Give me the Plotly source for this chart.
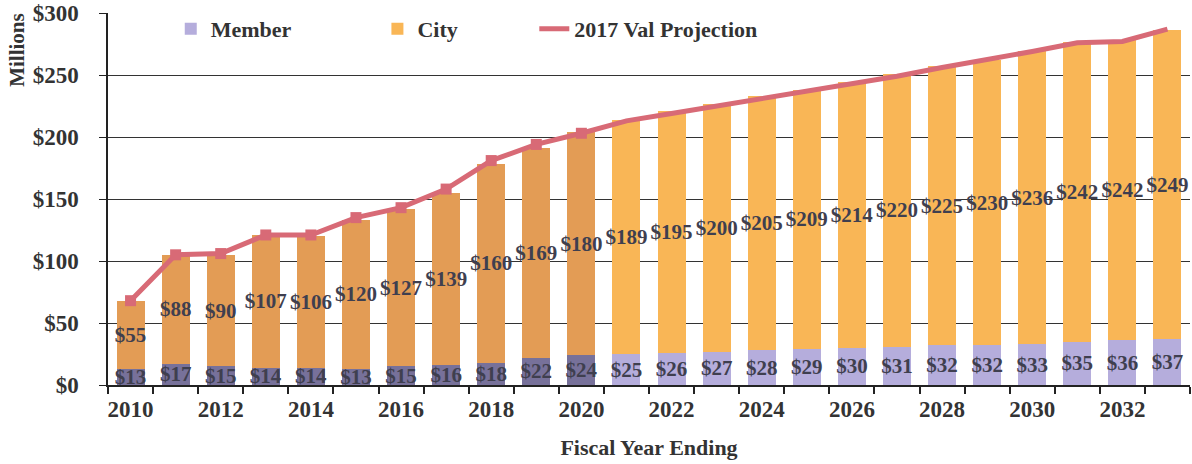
import plotly.graph_objects as go

years = list(range(2010, 2034))
member = [13, 17, 15, 14, 14, 13, 15, 16, 18, 22, 24, 25, 26, 27, 28, 29, 30, 31, 32, 32, 33, 35, 36, 37]
city = [55, 88, 90, 107, 106, 120, 127, 139, 160, 169, 180, 189, 195, 200, 205, 209, 214, 220, 225, 230, 236, 242, 242, 249]
projection = [68, 105, 106, 121, 121, 135, 143, 158, 181, 194, 203, 213, 219, 225, 231, 236, 243, 249, 256, 262, 269, 276, 277, 287]
last_actual = 2020
tick_years = list(range(2010, 2033, 2))
tick_labels = [str(y) for y in tick_years]

SERIF = "Liberation Serif, Times New Roman, serif"
LABEL_COLOR = "#3f3f4f"
TEXT_COLOR = "#333333"

hist = [i for i, y in enumerate(years) if y <= last_actual]
proj = [i for i, y in enumerate(years) if y > last_actual]

def pick(arr, idx):
    return [arr[i] for i in idx]

fig = go.Figure()

bar_common = dict(width=0.62, constraintext="none", textposition="inside", textangle=0,
                  insidetextanchor="middle", cliponaxis=False,
                  textfont=dict(family=SERIF, size=21, color=LABEL_COLOR, weight="bold"),
                  marker_line_width=0, hoverinfo="skip")

fig.add_trace(go.Bar(x=pick(years, hist), y=pick(member, hist), name="Member",
                     legend="legend", showlegend=False, marker_color="#77719a",
                     text=["$" + str(v) for v in pick(member, hist)], **bar_common))
fig.add_trace(go.Bar(x=pick(years, proj), y=pick(member, proj), name="Member",
                     legend="legend", marker_color="#b5addc",
                     text=["$" + str(v) for v in pick(member, proj)], **bar_common))
fig.add_trace(go.Bar(x=pick(years, hist), y=pick(city, hist), name="City",
                     legend="legend2", showlegend=False, marker_color="#e39c55",
                     text=["$" + str(v) for v in pick(city, hist)], **bar_common))
fig.add_trace(go.Bar(x=pick(years, proj), y=pick(city, proj), name="City",
                     legend="legend2", marker_color="#f9b656",
                     text=["$" + str(v) for v in pick(city, proj)], **bar_common))

LINE_COLOR = "#d86a76"
fig.add_trace(go.Scatter(x=years, y=projection, mode="lines", name="2017 Val Projection",
                         legend="legend3",
                         line=dict(color=LINE_COLOR, width=5), hoverinfo="skip"))
fig.add_trace(go.Scatter(x=pick(years, hist), y=pick(projection, hist), mode="markers",
                         showlegend=False, marker=dict(symbol="square", size=11, color=LINE_COLOR),
                         hoverinfo="skip"))

legend_common = dict(orientation="h", y=0.957, xanchor="left", yanchor="middle",
                     font=dict(family=SERIF, size=22, color=TEXT_COLOR, weight="bold"),
                     bgcolor="rgba(0,0,0,0)")

fig.update_layout(
    barmode="stack",
    width=1192, height=464,
    margin=dict(l=108, r=2, t=13, b=79),
    plot_bgcolor="white", paper_bgcolor="white",
    font=dict(family=SERIF, color=TEXT_COLOR),
    legend=dict(x=0.058, **legend_common),
    legend2=dict(x=0.249, **legend_common),
    legend3=dict(x=0.394, **legend_common),
    xaxis=dict(range=[2009.5, 2033.5], tickmode="array", tickvals=tick_years, ticktext=tick_labels,
               ticks="", showgrid=False, showline=True, linecolor="#222222", linewidth=1.5,
               ticklabelstandoff=3,
               tickfont=dict(family=SERIF, size=23, color=TEXT_COLOR, weight="bold"),
               minor=dict(tick0=2009.5, dtick=1, ticks="outside", ticklen=7, tickcolor="#222222",
                          tickwidth=1.5, showgrid=False),
               title=dict(text="Fiscal Year Ending",
                          font=dict(family=SERIF, size=22, color=TEXT_COLOR, weight="bold"),
                          standoff=18)),
    yaxis=dict(range=[0, 300], dtick=50, tickprefix="$", showgrid=True, gridcolor="#333333",
               gridwidth=1, showline=True, linecolor="#222222", linewidth=1.5, ticks="outside",
               ticklen=7, tickcolor="#222222", zeroline=False, ticklabelstandoff=16,
               tickfont=dict(family=SERIF, size=23, color=TEXT_COLOR, weight="bold")),
    annotations=[dict(text="Millions", xref="paper", yref="paper", x=-0.0835, y=0.9,
                      xanchor="center", yanchor="middle",
                      textangle=-90, showarrow=False,
                      font=dict(family=SERIF, size=21, color=TEXT_COLOR, weight="bold"))],
)

fig.write_html("out.html", config={"displayModeBar": False},
               post_script="document.body.style.margin='0';document.body.style.overflow='hidden';")
